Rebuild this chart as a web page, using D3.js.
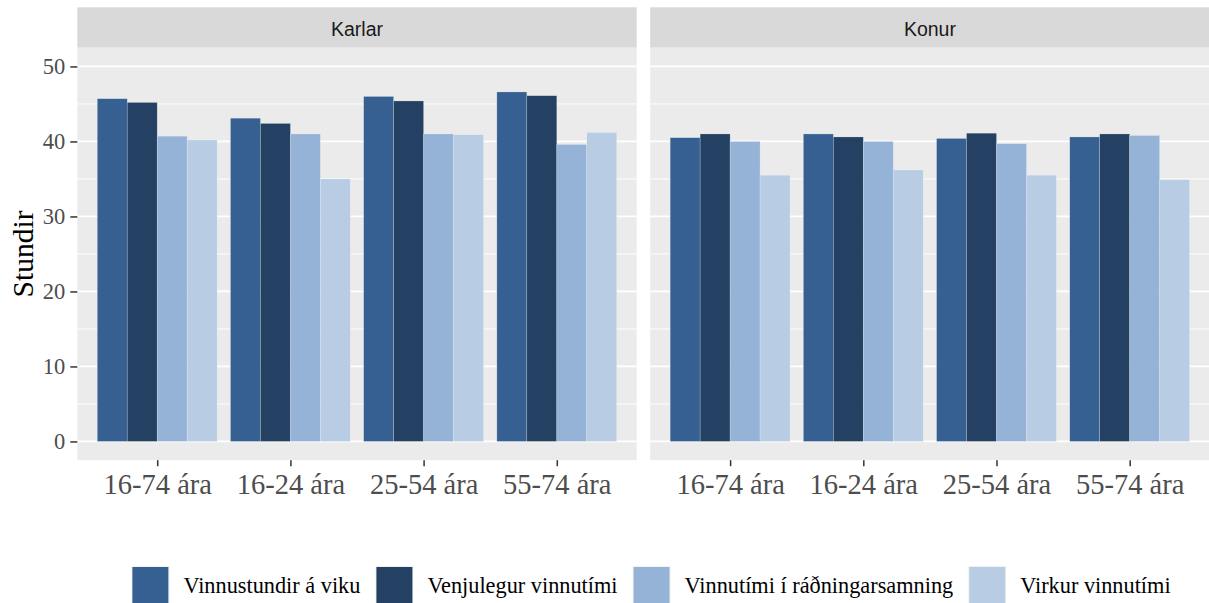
<!DOCTYPE html>
<html><head><meta charset="utf-8">
<script src="https://cdn.jsdelivr.net/npm/d3@7"></script>
<style>body{margin:0;background:#fff}svg{display:block}</style>
</head><body>
<svg id="c" width="1209" height="603"></svg>
<script>
const panels = ["Karlar", "Konur"];
const groups = ["16-74 ára", "16-24 ára", "25-54 ára", "55-74 ára"];
const series = ["Vinnustundir á viku", "Venjulegur vinnutími", "Vinnutími í ráðningarsamning", "Virkur vinnutími"];
const colors = ["#366092", "#244062", "#95B3D7", "#B8CCE4"];
// values[series][group] per panel
const karlar = [
  [45.7, 43.1, 46.0, 46.6],
  [45.2, 42.4, 45.4, 46.1],
  [40.7, 41.0, 41.0, 39.6],
  [40.2, 35.0, 40.9, 41.2]
];
const konur = [
  [40.5, 41.0, 40.4, 40.6],
  [41.0, 40.6, 41.1, 41.0],
  [40.0, 40.0, 39.7, 40.8],
  [35.5, 36.2, 35.5, 34.9]
];
const yTicks = [0, 10, 20, 30, 40, 50];
const yMinor = [5, 15, 25, 35, 45];
const panelData = [karlar, konur];

const svg = d3.select("#c");
const pTop = 47.7, pBottom = 460.2;
const panelX = [[77.3, 636.7], [650.2, 1209.6]];
const y = d3.scaleLinear().domain([-2.5, 52.5]).range([pBottom, pTop]);
const serif = "Liberation Serif, Times New Roman, serif";

panelX.forEach(([x0, x1], pi) => {
  const g = svg.append("g");
  g.append("rect").attr("x", x0).attr("y", 7.3).attr("width", x1 - x0).attr("height", pTop - 7.3).attr("fill", "#D9D9D9");
  g.append("text").attr("x", (x0 + x1) / 2).attr("y", 35.5).attr("text-anchor", "middle")
    .attr("font-family", "Liberation Sans, Arial, sans-serif").attr("font-size", 19.5).attr("fill", "#1A1A1A").text(panels[pi]);
  g.append("rect").attr("x", x0).attr("y", pTop).attr("width", x1 - x0).attr("height", pBottom - pTop).attr("fill", "#EBEBEB");
  g.selectAll(".mn").data(yMinor).join("line").attr("x1", x0).attr("x2", x1)
    .attr("y1", d => y(d)).attr("y2", d => y(d)).attr("stroke", "#fff").attr("stroke-width", 0.9);
  g.selectAll(".mj").data(yTicks).join("line").attr("x1", x0).attr("x2", x1)
    .attr("y1", d => y(d)).attr("y2", d => y(d)).attr("stroke", "#fff").attr("stroke-width", 1.7);

  const x = d3.scaleBand().domain(groups).range([x0, x1]).paddingInner(0.1).paddingOuter(0.15);
  const xs = d3.scaleBand().domain(series).range([0, x.bandwidth()]).padding(0);
  const vals = panelData[pi];
  groups.forEach((grp, gi) => {
    series.forEach((s, si) => {
      const v = vals[si][gi];
      g.append("rect").attr("x", x(grp) + xs(s)).attr("y", y(v)).attr("width", xs.bandwidth())
        .attr("height", y(0) - y(v)).attr("fill", colors[si])
        .attr("stroke", "rgba(255,255,255,0.35)").attr("stroke-width", 0.6);
    });
  });
  const xa = g.append("g").attr("transform", `translate(0,${pBottom})`)
    .call(d3.axisBottom(d3.scalePoint().domain(groups).range([x(groups[0]) + x.bandwidth() / 2, x(groups[3]) + x.bandwidth() / 2])).tickSize(6).tickPadding(8));
  xa.select(".domain").remove();
  xa.selectAll(".tick line").attr("stroke", "#333").attr("stroke-width", 1.5);
  xa.selectAll(".tick text").attr("font-family", serif).attr("font-size", 28.5)
    .attr("fill", "#4D4D4D").attr("dy", "0.68em");
  if (pi === 0) {
    const ya = g.append("g").attr("transform", `translate(${x0},0)`)
      .call(d3.axisLeft(y).tickValues(yTicks).tickSize(7).tickPadding(5));
    ya.select(".domain").remove();
    ya.selectAll(".tick line").attr("stroke", "#333").attr("stroke-width", 1.5);
    ya.selectAll(".tick text").attr("font-family", serif).attr("font-size", 22.5)
      .attr("fill", "#4D4D4D");
  }
});

svg.append("text").attr("transform", `translate(33,${(pTop + pBottom) / 2}) rotate(-90)`).attr("text-anchor", "middle")
  .attr("font-family", serif).attr("font-size", 29.5).attr("fill", "#000").text("Stundir");

const lg = svg.append("g");
const keyW = 38, gapK = 14, gapL = 15;
const items = series.map((s, i) => {
  const t = lg.append("text").attr("font-family", serif).attr("font-size", 22.3)
    .attr("fill", "#000").attr("y", 593.3).text(s);
  return { t, w: t.node().getComputedTextLength(), i };
});
const total = items.reduce((a, it) => a + keyW + gapK + it.w, 0) + gapL * (items.length - 1);
let cx = 651 - total / 2;
items.forEach(it => {
  lg.append("rect").attr("x", cx).attr("y", 566).attr("width", keyW).attr("height", keyW).attr("fill", "#F2F2F2");
  lg.append("rect").attr("x", cx + 1).attr("y", 567).attr("width", keyW - 2).attr("height", keyW - 2).attr("fill", colors[it.i]);
  it.t.attr("x", cx + keyW + gapK);
  cx += keyW + gapK + it.w + gapL;
});
</script>
</body></html>
